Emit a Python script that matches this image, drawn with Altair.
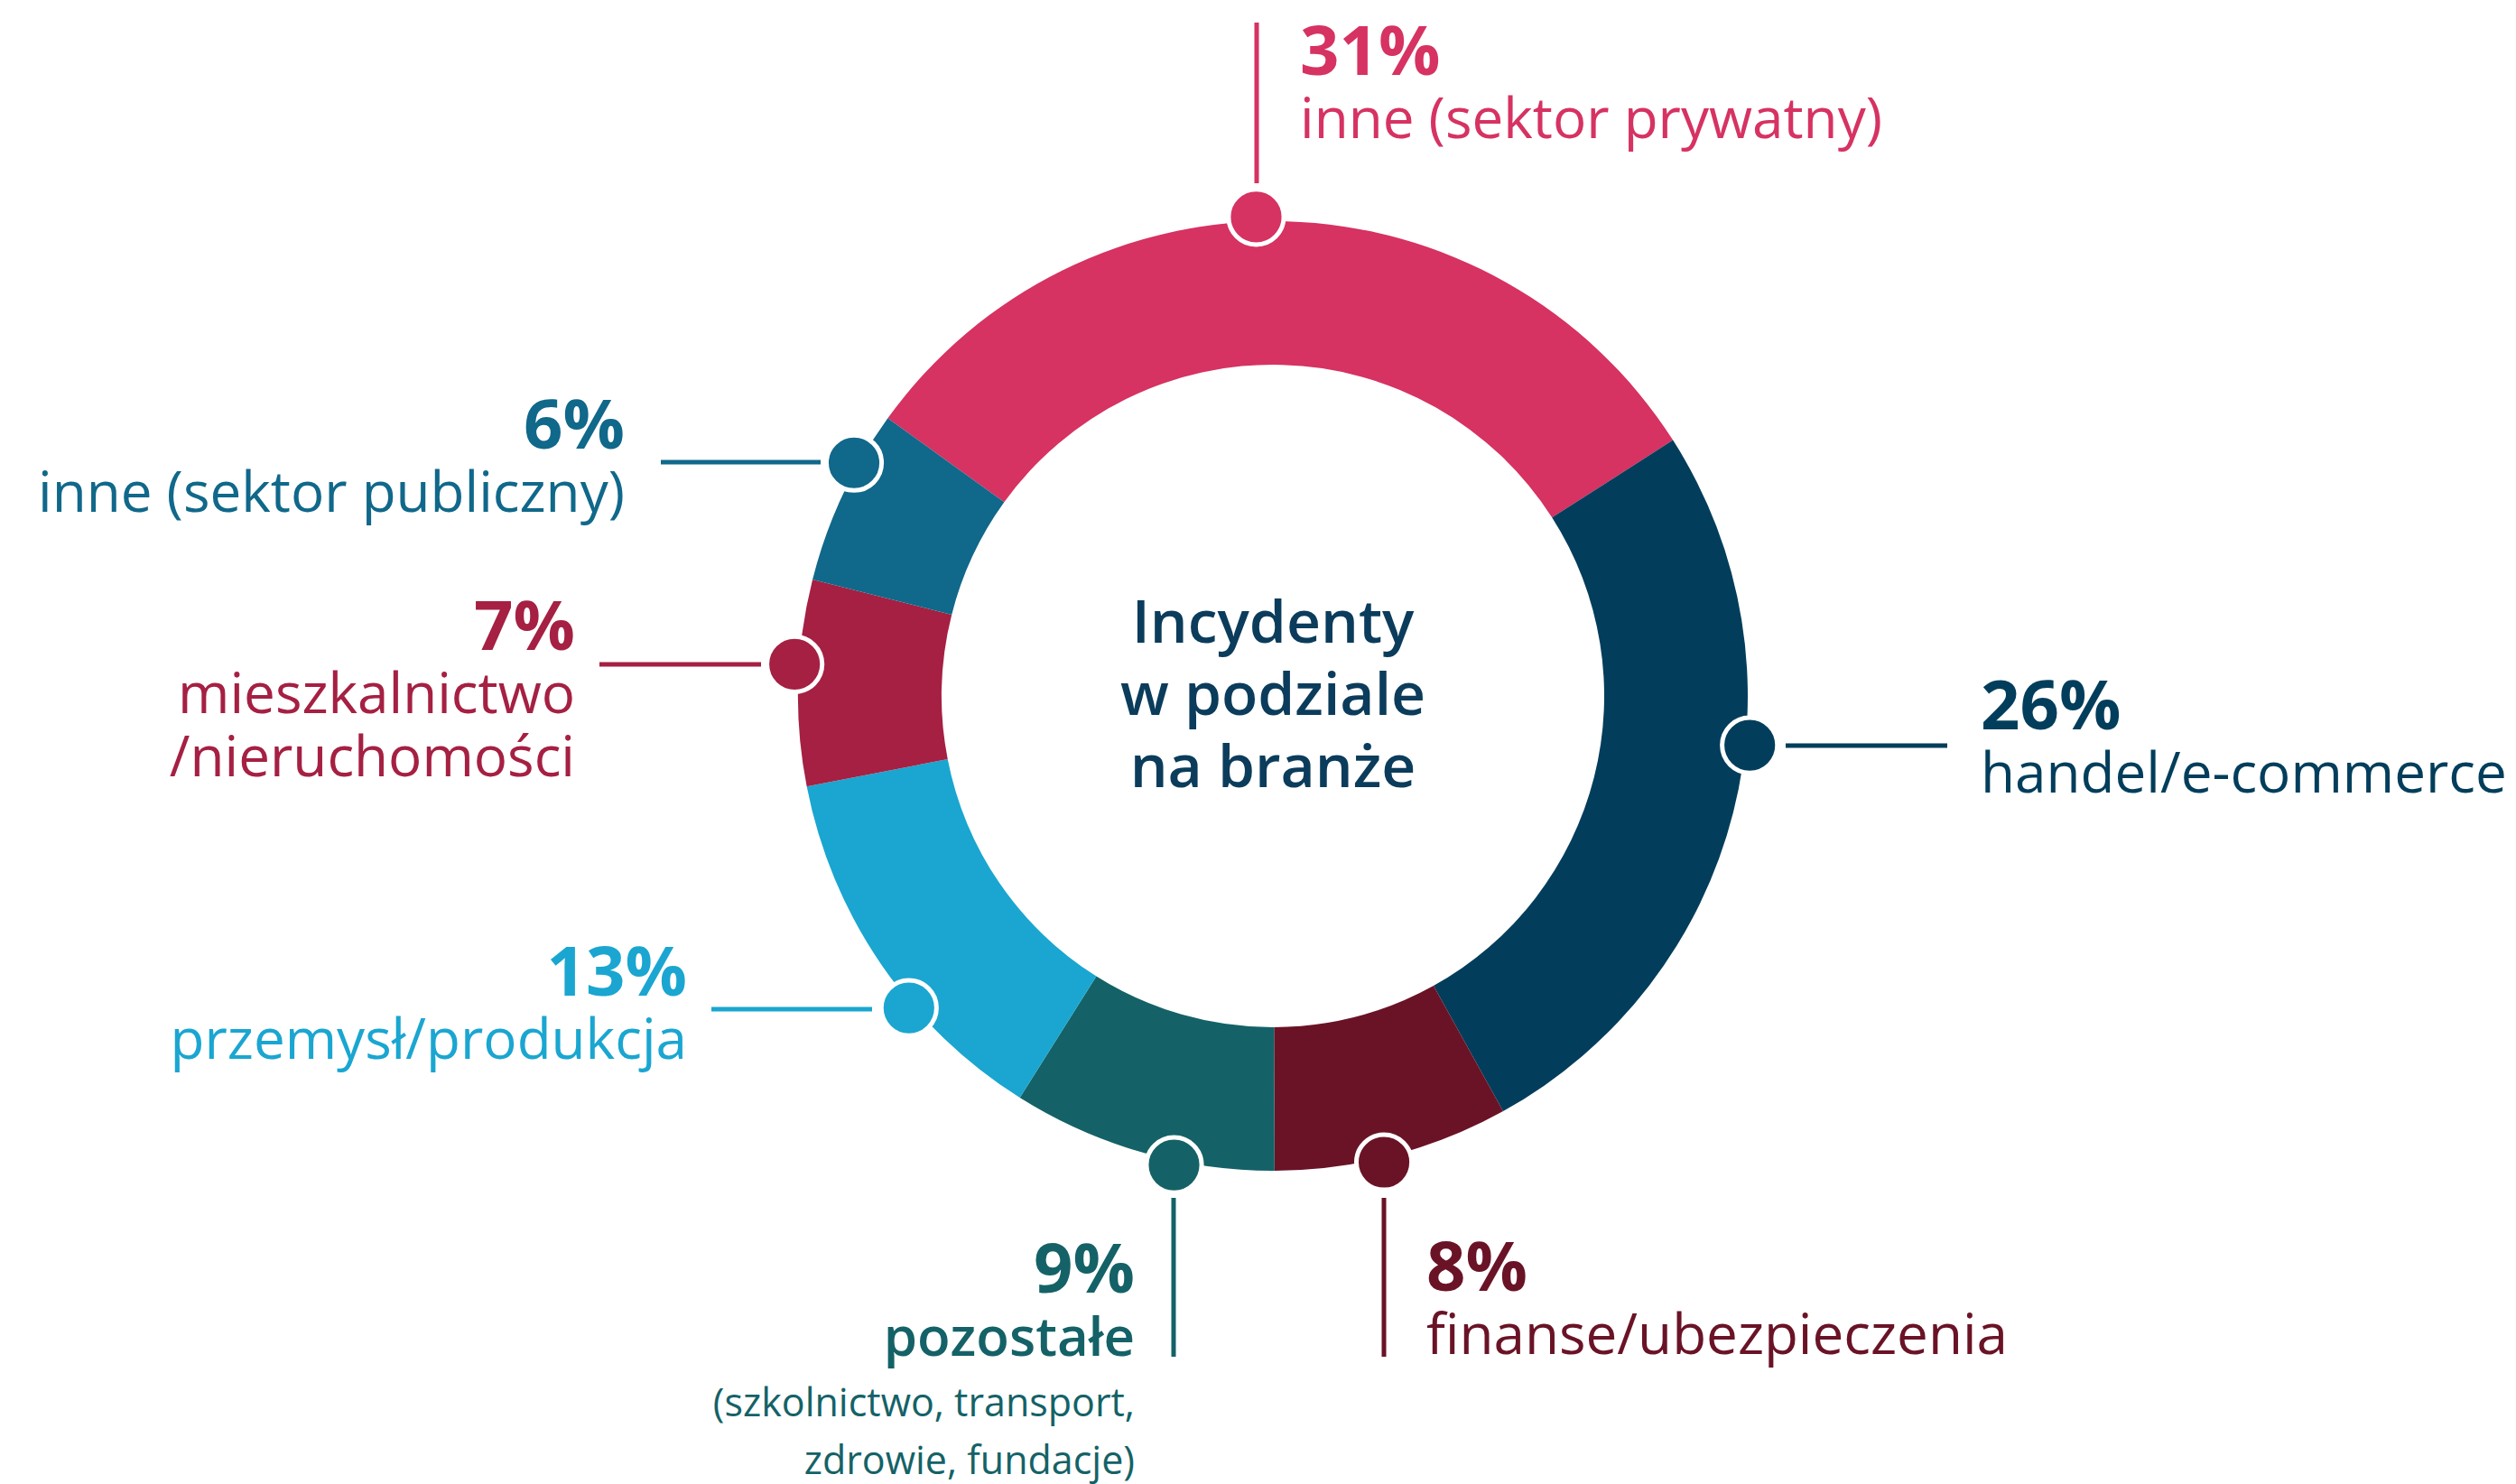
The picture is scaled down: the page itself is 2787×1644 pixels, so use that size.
import math
import altair as alt
import pandas as pd

# ---------------- data ----------------
categories = [
    "inne (sektor prywatny)",
    "handel/e-commerce",
    "finanse/ubezpieczenia",
    "pozostałe",
    "przemysł/produkcja",
    "mieszkalnictwo/nieruchomości",
    "inne (sektor publiczny)",
]
values = [31, 26, 8, 9, 13, 7, 6]
pct_labels = ["31%", "26%", "8%", "9%", "13%", "7%", "6%"]
label_lines = [
    ["inne (sektor prywatny)"],
    ["handel/e-commerce"],
    ["finanse/ubezpieczenia"],
    ["pozostałe"],
    ["przemysł/produkcja"],
    ["mieszkalnictwo", "/nieruchomości"],
    ["inne (sektor publiczny)"],
]
note_lines = ["(szkolnictwo, transport,", "zdrowie, fundacje)"]
center_lines = ["Incydenty", "w podziale", "na branże"]

# ---------------- styles / layout ----------------
colors = ["#D63262", "#023E5B", "#6A1326", "#146267", "#1AA6D1", "#A52042", "#10688A"]
center_color = "#0B3C5B"
FONT = "Open Sans"

W, H = 2771, 1636          # view size
M = 8                      # page margin
CX, CY = 1410, 771         # donut centre (page px)
R_OUT, R_IN, R_DOT = 526, 367, 531
START_DEG = -54.2

dot_angles = [358.0, 95.9, 166.6, 191.9, 229.4, 273.8, 299.1]
# leader line segments (x1, y1, x2, y2)
leaders = [
    (1392, 25, 1392, 203),
    (1978, 826, 2157, 826),
    (1533, 1327, 1533, 1503),
    (1300, 1327, 1300, 1503),
    (966, 1118, 788, 1118),
    (843, 736, 664, 736),
    (909, 512, 732, 512),
]
# label anchor: x, baseline of percentage, alignment
anchors = [
    (1440, 83, "left"),
    (2194, 808, "left"),
    (1580, 1430, "left"),
    (1257, 1432, "right"),
    (761, 1103, "right"),
    (637, 720, "right"),
    (692, 497, "right"),
]
PCT_SIZE, LAB_SIZE, POZ_SIZE, NOTE_SIZE, CENTER_SIZE = 76, 62, 60, 43, 66
LINE_GAP = 70

xs = alt.Scale(domain=[M, M + W])
ys = alt.Scale(domain=[M + H, M])

# ---------------- tables ----------------
seg = pd.DataFrame({"cat": categories, "value": values, "idx": range(len(values))})

dots = pd.DataFrame({
    "cat": categories,
    "color": colors,
    "x": [CX + R_DOT * math.sin(math.radians(a)) for a in dot_angles],
    "y": [CY - R_DOT * math.cos(math.radians(a)) for a in dot_angles],
})

lines = pd.DataFrame({
    "color": colors,
    "x": [l[0] for l in leaders],
    "y": [l[1] for l in leaders],
    "x2": [l[2] for l in leaders],
    "y2": [l[3] for l in leaders],
})

rows = []
for i, (ax, ay, al) in enumerate(anchors):
    rows.append(dict(text=pct_labels[i], x=ax, y=ay, color=colors[i], size=PCT_SIZE, weight=700, align=al))
    yy = ay
    poz = categories[i] == "pozostałe"
    for ln in label_lines[i]:
        yy += LINE_GAP
        rows.append(dict(text=ln, x=ax, y=yy, color=colors[i],
                         size=POZ_SIZE if poz else LAB_SIZE, weight=600 if poz else 500, align=al))
    if poz:
        for k, ln in enumerate(note_lines):
            yy += 67 if k == 0 else 64
            rows.append(dict(text=ln, x=ax, y=yy, color=colors[i], size=NOTE_SIZE, weight=400, align=al))
for k, ln in enumerate(center_lines):
    rows.append(dict(text=ln, x=CX, y=712 + 80 * k, color=center_color, size=CENTER_SIZE, weight=600, align="center"))
texts = pd.DataFrame(rows)

# ---------------- layers ----------------
arcs = alt.Chart(seg).mark_arc(radius=R_OUT, radius2=R_IN).encode(
    theta=alt.Theta("value:Q", stack=True,
                    scale=alt.Scale(range=[math.radians(START_DEG), math.radians(START_DEG + 360)])),
    color=alt.Color("cat:N", scale=alt.Scale(domain=categories, range=colors), legend=None),
    order=alt.Order("idx:Q"),
    x=alt.value(CX - M),
    y=alt.value(CY - M),
)

rules = alt.Chart(lines).mark_rule(strokeWidth=5).encode(
    x=alt.X("x:Q", scale=xs, axis=None),
    y=alt.Y("y:Q", scale=ys, axis=None),
    x2="x2:Q",
    y2="y2:Q",
    color=alt.Color("color:N", scale=None),
)

points = alt.Chart(dots).mark_circle(size=math.pi * 34.5 ** 2, opacity=1, stroke="white", strokeWidth=5).encode(
    x=alt.X("x:Q", scale=xs, axis=None),
    y=alt.Y("y:Q", scale=ys, axis=None),
    color=alt.Color("color:N", scale=None),
)

text_layers = []
for (al, wt), sub in texts.groupby(["align", "weight"]):
    text_layers.append(
        alt.Chart(sub.reset_index(drop=True)).mark_text(
            align=al, baseline="alphabetic", font=FONT, fontWeight=int(wt)
        ).encode(
            x=alt.X("x:Q", scale=xs, axis=None),
            y=alt.Y("y:Q", scale=ys, axis=None),
            text="text:N",
            color=alt.Color("color:N", scale=None),
            size=alt.Size("size:Q", scale=None),
        )
    )

chart = alt.layer(arcs, rules, points, *text_layers).properties(
    width=W, height=H, padding=0, autosize=alt.AutoSizeParams(type="none"), background="white"
).configure_view(strokeWidth=0)

chart.save("out.html", embed_options={"renderer": "svg", "actions": False})
